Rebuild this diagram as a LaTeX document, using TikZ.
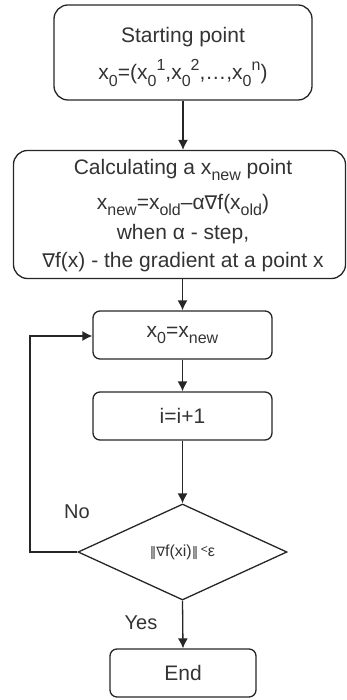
\documentclass[tikz,border=0pt]{standalone}
\usepackage{fontspec}
\setmainfont{Liberation Sans}
\newfontfamily\dvfont{DejaVu Sans}
\usetikzlibrary{arrows.meta,shapes.geometric}
\newcommand\mysub[1]{\raisebox{-0.32em}{\fontsize{16}{16}\selectfont #1}}
\newcommand\mysup[1]{\raisebox{0.42em}{\fontsize{16}{16}\selectfont #1}}
\newcommand\nab{{\dvfont\fontsize{19}{19}\selectfont ∇}}
\begin{document}
\begin{tikzpicture}[x=1pt,y=-1pt,
  every node/.style={font=\fontsize{21}{27}\selectfont, text=black!80},
  boxstyle/.style={draw=black!85, line width=1.3pt, rounded corners=14pt, inner sep=0pt},
  arr/.style={draw=black!85, line width=1.3pt, -{Latex[length=10pt,width=10pt]}},
  lbl/.style={font=\fontsize{20}{24}\selectfont}]
\useasboundingbox (0,0) rectangle (347,700);
% boxes
\node[boxstyle, minimum width=258pt, minimum height=95pt] (start) at (183,52.5) {};
\node (t1) at (183,37) {Starting point};
\node (t2) at (183,73) {x\mysub{0}=(x\mysub{0}\mysup{1},x\mysub{0}\mysup{2},\dots,x\mysub{0}\mysup{n})};
\node[boxstyle, minimum width=332pt, minimum height=128pt] (calc) at (179.5,214.5) {};
\node (c1) at (183,170) {Calculating a x\mysub{new} point};
\node (c2) at (183,205) {x\mysub{new}=x\mysub{old}–α\nab f(x\mysub{old})};
\node (c3) at (183,234) {when α - step,};
\node (c4) at (183,262) {\nab f(x) - the gradient at a point x};
\node[boxstyle, minimum width=179pt, minimum height=48pt, rounded corners=7pt] (asg) at (182.5,335) {x\mysub{0}=x\mysub{new}};
\node[boxstyle, minimum width=179pt, minimum height=48pt, rounded corners=7pt] (inc) at (182.5,416) {i=i+1};
\node[draw=black!85, line width=1.3pt, diamond, aspect=2.18, minimum width=209pt, minimum height=96pt, inner sep=0pt] (dec) at (182.5,552) {};
\node (dt) at (182.5,552) {\fontsize{16}{16}\selectfont{\dvfont\fontsize{13}{13}\selectfont ‖∇}f(xi){\dvfont\fontsize{13}{13}\selectfont ‖}\,\raisebox{0.15em}{\fontsize{12}{12}\selectfont<}ε};
\node[boxstyle, minimum width=146pt, minimum height=48pt, rounded corners=7pt] (end) at (183,673) {End};
% connectors
\coordinate (lp) at (30,552);
\coordinate (lq) at (30,336);
\draw[arr] (start.south) -- (start.south |- calc.north);
\draw[arr] (calc.south -| asg.north) -- (asg.north);
\draw[arr] (asg.south) -- (inc.north);
\draw[arr] (inc.south) -- (dec.north);
\draw[arr] (dec.south) -- (end.north);
\draw[arr] (dec.west) -- (lp) -- (lq) -- (asg.west |- lq);
\node[lbl] (no) at (77,512) {No};
\node[lbl] (yes) at (141,623) {Yes};
\end{tikzpicture}
\end{document}
